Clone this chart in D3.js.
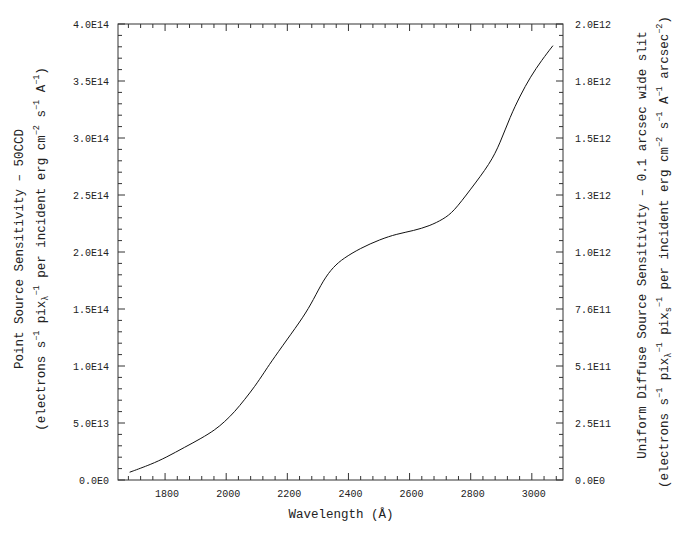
<!DOCTYPE html>
<html>
<head>
<meta charset="utf-8">
<script src="https://cdn.jsdelivr.net/npm/d3@7"></script>
<style>
body { margin: 0; background: #fff; }
text { font-family: "Liberation Mono", monospace; fill: #222; }
</style>
</head>
<body>
<div id="chart"></div>
<script>
// values
var wavelength = [1684, 1755, 1804, 1864, 1919, 1963, 1995, 2028, 2061, 2093, 2126, 2144, 2198, 2253, 2285, 2318, 2351, 2384, 2438, 2504, 2558, 2613, 2665, 2711, 2744, 2798, 2864, 2896, 2929, 2962, 2995, 3033, 3069];
var sensitivity = [0.068, 0.138, 0.199, 0.287, 0.366, 0.439, 0.511, 0.599, 0.708, 0.818, 0.950, 1.024, 1.228, 1.432, 1.579, 1.754, 1.871, 1.945, 2.032, 2.111, 2.158, 2.187, 2.228, 2.289, 2.354, 2.544, 2.778, 2.954, 3.187, 3.372, 3.535, 3.685, 3.810]; // x 1E14

var xTicks = [1800, 2000, 2200, 2400, 2600, 2800, 3000];
var yTicks = [0, 0.5e14, 1.0e14, 1.5e14, 2.0e14, 2.5e14, 3.0e14, 3.5e14, 4.0e14];
var yLabels = ["0.0E0", "5.0E13", "1.0E14", "1.5E14", "2.0E14", "2.5E14", "3.0E14", "3.5E14", "4.0E14"];
var y2Labels = ["0.0E0", "2.5E11", "5.1E11", "7.6E11", "1.0E12", "1.3E12", "1.5E12", "1.8E12", "2.0E12"];

var margin = { top: 24, left: 118 };
var width = 445;
var height = 456;

var svg = d3.select("#chart")
    .append("svg")
    .attr("width", 692)
    .attr("height", 539);

var g = svg.append("g")
    .attr("transform", "translate(" + margin.left + "," + margin.top + ")");

var xScale = d3.scaleLinear().domain([1646, 3102]).range([0, width]);
var yScale = d3.scaleLinear().domain([0, 4e14]).range([height, 0]);

var axisColor = "#333";

// frame
g.append("rect")
    .attr("width", width)
    .attr("height", height)
    .attr("fill", "none")
    .attr("stroke", axisColor)
    .attr("stroke-width", 1);

// x ticks, bottom and top, pointing inward
var xMinor = d3.range(1680, 3100, 40);
xMinor.forEach(function(v) {
    var major = xTicks.indexOf(v) >= 0;
    var len = major ? 7 : 4;
    g.append("line").attr("x1", xScale(v)).attr("x2", xScale(v))
        .attr("y1", height).attr("y2", height - len).attr("stroke", axisColor);
    g.append("line").attr("x1", xScale(v)).attr("x2", xScale(v))
        .attr("y1", 0).attr("y2", len).attr("stroke", axisColor);
});

g.selectAll(".xlab")
    .data(xTicks)
    .enter().append("text")
    .attr("class", "xlab")
    .attr("x", function(d) { return xScale(d) + 2; })
    .attr("y", height + 17)
    .attr("text-anchor", "middle")
    .style("font-size", "10px")
    .text(function(d) { return d; });

// y ticks, left and right, pointing inward
var yMinor = d3.range(0, 4.01e14, 1e13);
yMinor.forEach(function(v, i) {
    var len = (i % 5 === 0) ? 7 : 4;
    g.append("line").attr("x1", 0).attr("x2", len)
        .attr("y1", yScale(v)).attr("y2", yScale(v)).attr("stroke", axisColor);
    g.append("line").attr("x1", width).attr("x2", width - len)
        .attr("y1", yScale(v)).attr("y2", yScale(v)).attr("stroke", axisColor);
});

g.selectAll(".ylab")
    .data(yTicks)
    .enter().append("text")
    .attr("class", "ylab")
    .attr("x", -9)
    .attr("y", function(d) { return yScale(d) + 3.5; })
    .attr("text-anchor", "end")
    .style("font-size", "10px")
    .text(function(d, i) { return yLabels[i]; });

g.selectAll(".y2lab")
    .data(yTicks)
    .enter().append("text")
    .attr("class", "y2lab")
    .attr("x", width + 12)
    .attr("y", function(d) { return yScale(d) + 3.5; })
    .attr("text-anchor", "start")
    .style("font-size", "10px")
    .text(function(d, i) { return y2Labels[i]; });

// curve
var pts = wavelength.map(function(w, i) { return [w, sensitivity[i] * 1e14]; });
var line = d3.line()
    .x(function(d) { return xScale(d[0]); })
    .y(function(d) { return yScale(d[1]); })
    .curve(d3.curveBasis);

g.append("path")
    .datum(pts)
    .attr("d", line)
    .attr("fill", "none")
    .attr("stroke", "#111")
    .attr("stroke-width", 1);

// titles
svg.append("text")
    .attr("x", 341)
    .attr("y", 518)
    .attr("text-anchor", "middle")
    .style("font-size", "12.5px")
    .text("Wavelength (\u00c5)");

function richLabel(x, y, parts, size) {
    var t = svg.append("text")
        .attr("transform", "translate(" + x + "," + y + ") rotate(-90)")
        .attr("text-anchor", "middle")
        .style("font-size", size + "px");
    var shift = 0;
    parts.forEach(function(p) {
        var target = p[1] === "sup" ? -6 : (p[1] === "sub" ? 3 : 0);
        t.append("tspan")
            .attr("dy", target - shift)
            .style("font-size", p[1] === "n" ? size + "px" : (size * 0.68) + "px")
            .text(p[0]);
        shift = target;
    });
    return t;
}

richLabel(23, 249, [["Point Source Sensitivity \u2013 50CCD", "n"]], 12.5);
richLabel(45, 249, [
    ["(electrons s", "n"], ["\u22121", "sup"], [" pix", "n"], ["\u03bb", "sub"], ["\u22121", "sup"],
    [" per incident erg cm", "n"], ["\u22122", "sup"], [" s", "n"], ["\u22121", "sup"],
    [" A", "n"], ["\u22121", "sup"], [")", "n"]
], 12.5);

richLabel(646, 245, [["Uniform Diffuse Source Sensitivity \u2013 0.1 arcsec wide slit", "n"]], 12.5);
richLabel(668, 252, [
    ["(electrons s", "n"], ["\u22121", "sup"], [" pix", "n"], ["\u03bb", "sub"], ["\u22121", "sup"],
    [" pix", "n"], ["s", "sub"], ["\u22121", "sup"],
    [" per incident erg cm", "n"], ["\u22122", "sup"], [" s", "n"], ["\u22121", "sup"],
    [" A", "n"], ["\u22121", "sup"], [" arcsec", "n"], ["\u22122", "sup"], [")", "n"]
], 12.5);
</script>
</body>
</html>
